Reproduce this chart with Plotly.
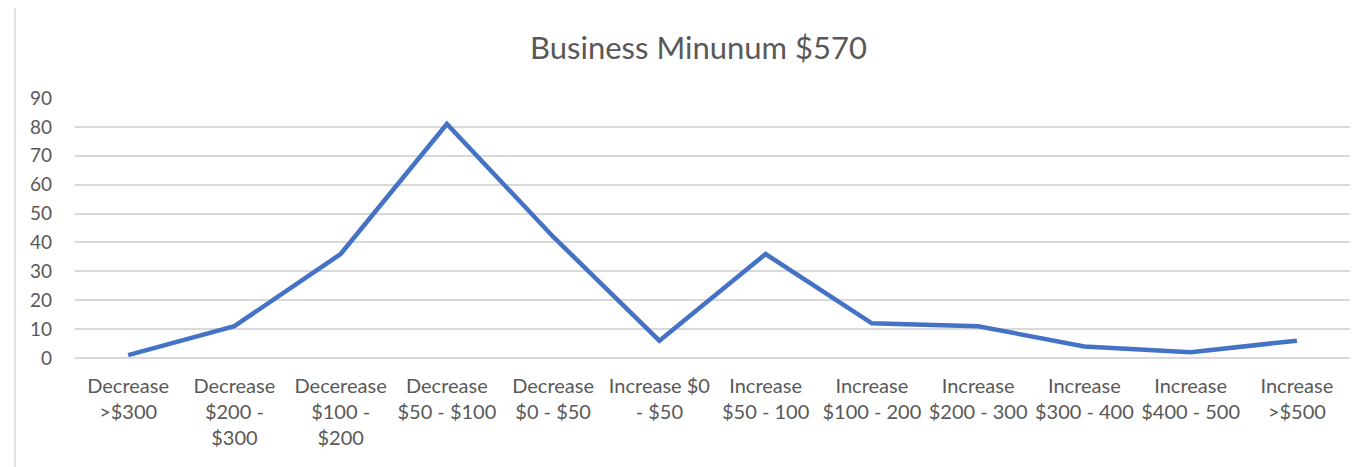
import plotly.graph_objects as go

categories = [
    "Decrease<br>>$300",
    "Decrease<br>$200 -<br>$300",
    "Decerease<br>$100 -<br>$200",
    "Decrease<br>$50 - $100",
    "Decrease<br>$0 - $50",
    "Increase $0<br>- $50",
    "Increase<br>$50 - 100",
    "Increase<br>$100 - 200",
    "Increase<br>$200 - 300",
    "Increase<br>$300 - 400",
    "Increase<br>$400 - 500",
    "Increase<br>>$500",
]
counts = [1, 11, 36, 81, 42, 6, 36, 12, 11, 4, 2, 6]
y_ticks = [0, 10, 20, 30, 40, 50, 60, 70, 80, 90]

font_family = "Lato, Carlito, Calibri, sans-serif"
text_color = "#595959"
grid_color = "#d9d9d9"

# page body adds an 8px offset, so margins are set in figure coordinates
off = 8

fig = go.Figure()
fig.add_trace(go.Scatter(
    x=categories,
    y=counts,
    mode="lines",
    line=dict(color="#4472C4", width=4.5),
    hoverinfo="x+y",
))

fig.update_layout(
    width=1370,
    height=467,
    paper_bgcolor="white",
    plot_bgcolor="white",
    margin=dict(l=75 - off, r=1370 - (1350 - off), t=98 - off, b=467 - (358 - off)),
    showlegend=False,
    title=dict(
        text="Business Minunum $570",
        x=((527 + 870) / 2 - off) / 1370,
        xanchor="center",
        y=1 - (48 - off) / 467,
        yanchor="middle",
        font=dict(family=font_family, size=31, color=text_color),
    ),
    font=dict(family=font_family, size=18, color=text_color),
    xaxis=dict(
        type="category",
        showgrid=False,
        showline=False,
        ticks="",
        tickangle=0,
        ticklabelstandoff=14,
        tickfont=dict(size=20, color=text_color),
        range=[-0.5, len(categories) - 0.5],
    ),
    yaxis=dict(
        range=[0, 90],
        tickvals=y_ticks,
        showgrid=True,
        gridcolor=grid_color,
        gridwidth=1.5,
        zeroline=True,
        zerolinecolor=grid_color,
        zerolinewidth=1.5,
        showline=False,
        ticks="",
        ticklabelstandoff=22,
        tickfont=dict(size=19, color=text_color),
    ),
    shapes=[
        dict(
            type="rect",
            xref="paper",
            yref="paper",
            x0=(15 - 75) / 1275,
            x1=(1366 - 75) / 1275,
            y0=-0.45,
            y1=(358 - 6) / 260,
            line=dict(color="#d9d9d9", width=1.5),
            fillcolor="rgba(0,0,0,0)",
            layer="below",
        )
    ],
)

fig.write_html("out.html")
